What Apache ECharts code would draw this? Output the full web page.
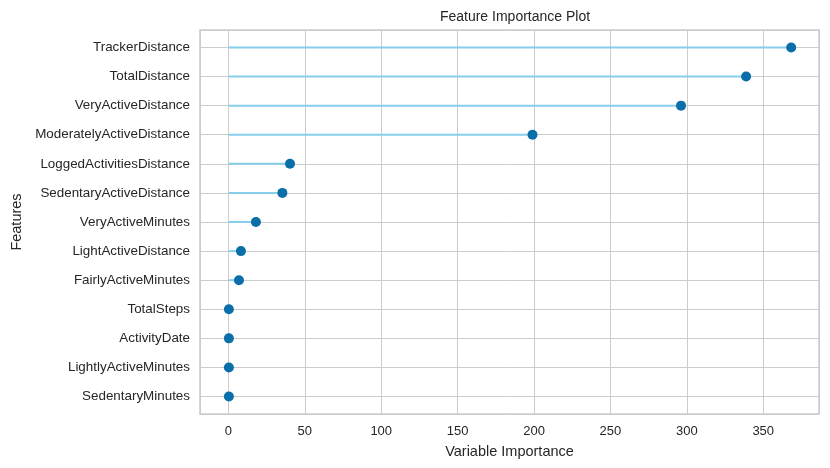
<!DOCTYPE html>
<html>
<head>
<meta charset="utf-8">
<script src="https://cdn.jsdelivr.net/npm/echarts@6/dist/echarts.min.js"></script>
<style>
html,body{margin:0;padding:0;background:#fff;}
#chart{width:830px;height:468px;}
</style>
</head>
<body>
<div id="chart"></div>
<script>
// Categories from top to bottom
var categories = [
  'TrackerDistance','TotalDistance','VeryActiveDistance','ModeratelyActiveDistance',
  'LoggedActivitiesDistance','SedentaryActiveDistance','VeryActiveMinutes',
  'LightActiveDistance','FairlyActiveMinutes','TotalSteps','ActivityDate',
  'LightlyActiveMinutes','SedentaryMinutes'
];
var importance = [368.3, 338.8, 296.2, 199.0, 40.3, 35.3, 18.0, 8.2, 6.9, 0.3, 0.3, 0.3, 0.3];
var xTickValues = [0, 50, 100, 150, 200, 250, 300, 350];

var n = categories.length;
var points = importance.map(function (v, i) { return [v, n - 1 - i]; });
var font = '"Liberation Sans", Arial, sans-serif';
var txt = '#262626';

var chart = echarts.init(document.getElementById('chart'));
chart.setOption({
  backgroundColor: '#ffffff',
  animation: false,
  title: {
    text: 'Feature Importance Plot',
    left: 510, top: 5, textAlign: 'center',
    textStyle: { fontFamily: font, fontSize: 14, fontWeight: 'normal', color: txt }
  },
  grid: {
    left: 200, right: 11, top: 30, bottom: 54,
    outerBoundsMode: 'none',
    containLabel: false,
    show: true, borderColor: '#cccccc', borderWidth: 1.5, backgroundColor: '#ffffff'
  },
  xAxis: {
    type: 'value',
    min: -18.6, max: 386.5,
    splitNumber: 8,
    name: 'Variable Importance',
    nameLocation: 'middle', nameGap: 30,
    nameTextStyle: { fontFamily: font, fontSize: 14.5, color: txt },
    axisLine: { show: false },
    axisTick: { show: false },
    axisLabel: {
      fontFamily: font, fontSize: 13, color: txt, margin: 11,
      showMinLabel: false, showMaxLabel: false,
      formatter: function (v) { return xTickValues.indexOf(v) >= 0 ? String(v) : ''; }
    },
    splitLine: { show: true, lineStyle: { color: '#cccccc', width: 1 } }
  },
  yAxis: {
    type: 'value',
    min: -0.6, max: n - 1 + 0.6,
    splitNumber: 13,
    name: 'Features',
    nameLocation: 'middle', nameGap: 175,
    nameTextStyle: { fontFamily: font, fontSize: 14.5, color: txt },
    axisLine: { show: false },
    axisTick: { show: false },
    axisLabel: {
      fontFamily: font, fontSize: 13.4, color: txt, margin: 10,
      showMinLabel: false, showMaxLabel: false,
      formatter: function (v) {
        if (Math.abs(v - Math.round(v)) > 1e-6) return '';
        var idx = n - 1 - Math.round(v);
        return categories[idx] || '';
      }
    },
    splitLine: { show: true, lineStyle: { color: '#cccccc', width: 1 } }
  },
  series: [
    {
      type: 'custom',
      data: points,
      z: 2,
      renderItem: function (params, api) {
        var p0 = api.coord([0, api.value(1)]);
        var p1 = api.coord([api.value(0), api.value(1)]);
        return {
          type: 'line',
          shape: { x1: p0[0], y1: p0[1], x2: p1[0], y2: p1[1] },
          style: { stroke: '#87ceeb', lineWidth: 2 }
        };
      }
    },
    {
      type: 'scatter',
      data: points,
      z: 3,
      symbol: 'circle',
      symbolSize: 10,
      itemStyle: { color: '#0a6ea8', opacity: 1 }
    }
  ]
});
</script>
</body>
</html>
